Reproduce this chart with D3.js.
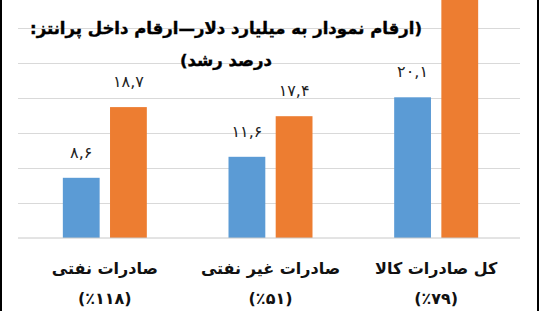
<!DOCTYPE html>
<html>
<head>
<meta charset="utf-8">
<script src="https://cdn.jsdelivr.net/npm/d3@7"></script>
<style>
  html, body { margin: 0; padding: 0; background: #fff; }
  svg { display: block; }
  text { font-family: "DejaVu Sans", sans-serif; }
</style>
</head>
<body>
<svg id="chart" width="542" height="311"></svg>
<script>
// ---- data ----
const categories = ["صادرات نفتی", "صادرات غیر نفتی", "کل صادرات کالا"];
const growthLabels = ["(٪118)", "(٪51)", "(٪79)"];
const series = ["prev", "curr"];
const prevValues = [8.6, 11.6, 20.1];
const currValues = [18.7, 17.4, 36.1];
const gridTicks = [5, 10, 15, 20, 25, 30];
const titleLines = ["(ارقام نمودار به میلیارد دلار—ارقام داخل پرانتز:", "درصد رشد)"];
const colors = { prev: "#5b9bd5", curr: "#ed7d31" };

const toFa = s => String(s).replace(/[0-9]/g, d => "۰۱۲۳۴۵۶۷۸۹"[+d]);
const fmt = v => toFa(v.toFixed(1)).replace(".", ",");

const rows = categories.map((c, i) => ({ cat: c, prev: prevValues[i], curr: currValues[i], growth: growthLabels[i] }));

const svg = d3.select("#chart");
const W = 542, H = 311;

const x0 = d3.scaleBand().domain(categories).range([22, 519]).paddingInner(0.493).paddingOuter(0.2465);
const x1 = d3.scaleBand().domain(series).range([0, x0.bandwidth()]).paddingInner(0.22);
const y = d3.scaleLinear().domain([0, 35]).range([238, -7]);

// gridlines
const grid = svg.append("g").attr("transform", "translate(18,0)")
  .call(d3.axisLeft(y).tickValues(gridTicks).tickSize(-502).tickFormat(""));
grid.select(".domain").remove();
grid.selectAll("line").attr("stroke", "#d9d9d9").attr("stroke-width", 1);

// title
svg.append("g").selectAll("text").data(titleLines).join("text")
  .attr("x", 226).attr("y", (d, i) => 34 + i * 32)
  .attr("text-anchor", "middle").attr("direction", "rtl")
  .attr("font-weight", "bold").attr("font-size", 16.5).attr("fill", "#000")
  .attr("stroke", "#000").attr("stroke-width", 0.4)
  .text(d => d);

// bars
const groups = svg.append("g").selectAll("g").data(rows).join("g")
  .attr("transform", d => `translate(${x0(d.cat)},0)`);
groups.selectAll("rect").data(d => series.map(k => ({ k, v: d[k] }))).join("rect")
  .attr("x", d => x1(d.k)).attr("width", x1.bandwidth())
  .attr("y", d => y(d.v)).attr("height", d => y(0) - y(d.v))
  .attr("fill", d => colors[d.k]);
groups.selectAll("text.val").data(d => series.map(k => ({ k, v: d[k] })).filter(e => y(e.v) > 30)).join("text")
  .attr("class", "val")
  .attr("x", d => x1(d.k) + x1.bandwidth() / 2).attr("y", d => y(d.v) - 20)
  .attr("text-anchor", "middle").attr("font-size", 16).attr("letter-spacing", 1).attr("fill", "#222")
  .text(d => fmt(d.v));

// baseline
svg.append("line").attr("x1", 18).attr("x2", 520).attr("y1", y(0)).attr("y2", y(0))
  .attr("stroke", "#c8c8c8").attr("stroke-width", 1);

// category labels
const lab = svg.append("g").selectAll("g").data(rows).join("g")
  .attr("transform", d => `translate(${x0(d.cat) + x0.bandwidth() / 2},0)`);
lab.append("text").attr("y", 274).attr("text-anchor", "middle").attr("direction", "rtl")
  .attr("font-weight", "bold").attr("font-size", 16).attr("fill", "#111").text(d => d.cat);
lab.append("text").attr("y", 304).attr("text-anchor", "middle").attr("direction", "rtl")
  .attr("font-weight", "bold").attr("font-size", 16).attr("fill", "#111").text(d => toFa(d.growth));

// frame sides
svg.append("line").attr("x1", 1).attr("x2", 1).attr("y1", 0).attr("y2", H).attr("stroke", "#000").attr("stroke-width", 2);
svg.append("line").attr("x1", 538).attr("x2", 538).attr("y1", 0).attr("y2", H).attr("stroke", "#000").attr("stroke-width", 2);
</script>
</body>
</html>
